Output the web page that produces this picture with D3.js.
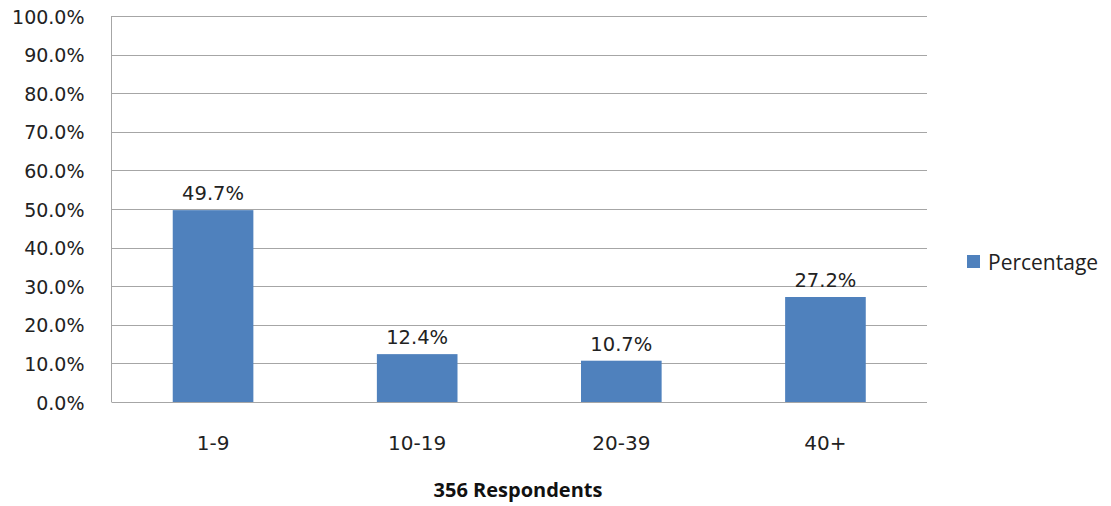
<!DOCTYPE html>
<html>
<head>
<meta charset="UTF-8">
<style>
body { margin:0; background:#fff; }
svg { display:block; }
.tick text { font-family:"DejaVu Sans", sans-serif; font-size:19px; fill:#222; }
</style>
</head>
<body>
<svg width="1111" height="506"></svg>
<script src="https://cdn.jsdelivr.net/npm/d3@7"></script>
<script>
var categories = ["1-9", "10-19", "20-39", "40+"];
var values = [49.7, 12.4, 10.7, 27.2];
var yTicks = [0, 10, 20, 30, 40, 50, 60, 70, 80, 90, 100];
var seriesName = "Percentage";
var axisTitle = "356 Respondents";

var svg = d3.select("svg");
var plotLeft = 111.5, plotRight = 927, plotTop = 16, plotBottom = 402;

var x = d3.scaleBand().domain(categories).range([plotLeft, plotRight]).paddingInner(0.605).paddingOuter(0.3);
var y = d3.scaleLinear().domain([0, 100]).range([plotBottom, plotTop]);

// gridlines
svg.append("g").selectAll("line").data(yTicks).enter().append("line")
  .attr("x1", plotLeft).attr("x2", plotRight)
  .attr("y1", function(d) { return Math.round(y(d)) + 0.5; })
  .attr("y2", function(d) { return Math.round(y(d)) + 0.5; })
  .attr("stroke", "#a6a6a6").attr("stroke-width", 1);

svg.append("line").attr("x1", plotLeft).attr("x2", plotLeft).attr("y1", plotTop).attr("y2", plotBottom)
  .attr("stroke", "#a6a6a6");

// y axis labels
var yAxis = svg.append("g").attr("transform", "translate(" + (plotLeft - 24) + ",1)")
  .call(d3.axisLeft(y).tickValues(yTicks).tickSize(0).tickFormat(function(d) { return d.toFixed(1) + "%"; }));
yAxis.select(".domain").remove();

// bars
svg.append("g").selectAll("rect").data(values).enter().append("rect")
  .attr("x", function(d, i) { return x(categories[i]); })
  .attr("width", x.bandwidth())
  .attr("y", function(d) { return y(d); })
  .attr("height", function(d) { return plotBottom - y(d); })
  .attr("fill", "#4f81bd");

// data labels
svg.append("g").selectAll("text").data(values).enter().append("text")
  .attr("x", function(d, i) { return x(categories[i]) + x.bandwidth() / 2; })
  .attr("y", function(d) { return y(d) - 10; })
  .attr("text-anchor", "middle")
  .style("font-family", "DejaVu Sans, sans-serif").style("font-size", "19.5px").attr("fill", "#222")
  .text(function(d) { return d.toFixed(1) + "%"; });

// category labels
svg.append("g").selectAll("text").data(categories).enter().append("text")
  .attr("x", function(d) { return x(d) + x.bandwidth() / 2; })
  .attr("y", 450)
  .attr("text-anchor", "middle")
  .style("font-family", "DejaVu Sans, sans-serif").style("font-size", "20px").attr("fill", "#222")
  .text(function(d) { return d; });

// axis title
svg.append("text").attr("x", 518).attr("y", 497).attr("text-anchor", "middle")
  .style("font-family", "Open Sans, sans-serif").style("font-size", "20px").style("font-weight", "bold")
  .attr("fill", "#111").text(axisTitle);

// legend
svg.append("rect").attr("x", 967).attr("y", 255).attr("width", 13).attr("height", 13).attr("fill", "#4f81bd");
svg.append("text").attr("x", 988).attr("y", 270)
  .style("font-family", "Open Sans, sans-serif").style("font-size", "21px").attr("fill", "#222")
  .text(seriesName);
</script>
</body>
</html>
